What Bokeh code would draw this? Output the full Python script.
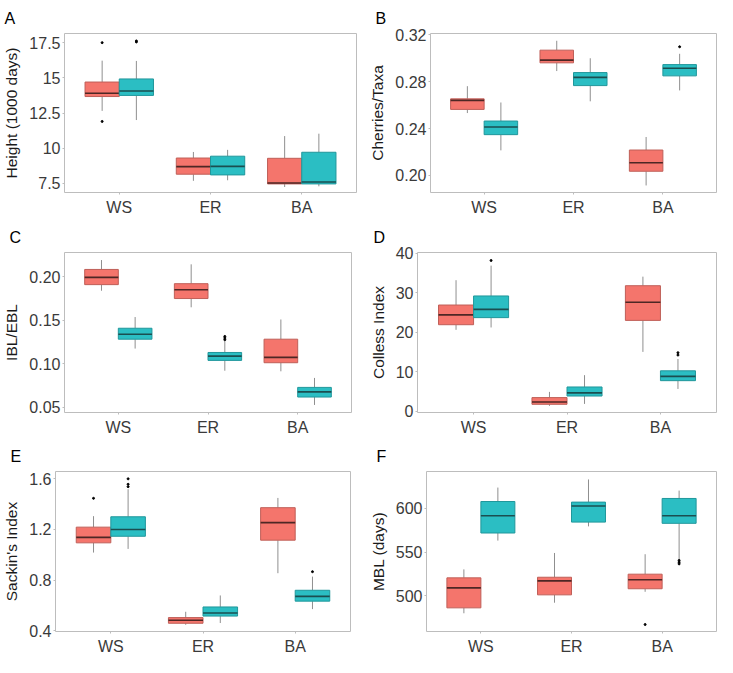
from bokeh.plotting import figure
from bokeh.models import Range1d, FixedTicker, ColumnDataSource, Title
from bokeh.layouts import column, row
from bokeh.embed import file_html
from bokeh.resources import INLINE

CATS = ["WS", "ER", "BA"]

# five-number summaries per category: [lower whisker, Q1, median, Q3, upper whisker]
A_red = [[12.65, 13.67, 13.9, 14.7, 16.22], [7.68, 8.15, 8.69, 9.3, 9.73], [7.24, 7.46, 7.52, 9.28, 10.86]]
A_teal = [[12.0, 13.75, 14.06, 14.92, 16.2], [7.72, 8.1, 8.71, 9.43, 9.88], [7.29, 7.46, 7.6, 9.71, 11.03]]
A_red_out_cat = ["WS", "WS"]
A_red_out_val = [17.5, 11.9]
A_teal_out_cat = ["WS", "WS"]
A_teal_out_val = [17.62, 17.55]

B_red = [[0.2532, 0.2563, 0.264, 0.2653, 0.2761], [0.289, 0.296, 0.2983, 0.3068, 0.3148], [0.1915, 0.2036, 0.2108, 0.2217, 0.2328]]
B_teal = [[0.2214, 0.2348, 0.2413, 0.2464, 0.2622], [0.2632, 0.2766, 0.2836, 0.2877, 0.2999], [0.2725, 0.2849, 0.2914, 0.2945, 0.3037]]
B_red_out_cat = []
B_red_out_val = []
B_teal_out_cat = ["BA"]
B_teal_out_val = [0.3097]

C_red = [[0.1839, 0.1909, 0.1993, 0.2084, 0.2192], [0.1648, 0.1749, 0.185, 0.192, 0.2143], [0.0911, 0.101, 0.1072, 0.1281, 0.1508]]
C_teal = [[0.1173, 0.1281, 0.1337, 0.1407, 0.1536], [0.0918, 0.1037, 0.1086, 0.1128, 0.1257], [0.0524, 0.0615, 0.0674, 0.0726, 0.0835]]
C_red_out_cat = []
C_red_out_val = []
C_teal_out_cat = ["ER", "ER", "ER"]
C_teal_out_val = [0.1313, 0.1295, 0.1274]

D_red = [[20.6, 21.9, 24.4, 26.9, 33.2], [1.3, 1.7, 2.3, 3.4, 4.85], [15.0, 23.0, 27.6, 31.8, 34.1]]
D_teal = [[21.2, 23.7, 25.8, 29.2, 36.9], [1.8, 3.8, 4.6, 6.1, 9.1], [5.6, 7.7, 8.8, 10.2, 13.2]]
D_red_out_cat = []
D_red_out_val = []
D_teal_out_cat = ["WS", "BA", "BA"]
D_teal_out_val = [38.2, 14.8, 14.2]

E_red = [[1.017, 1.094, 1.137, 1.218, 1.305], [0.446, 0.458, 0.482, 0.503, 0.549], [0.854, 1.115, 1.254, 1.372, 1.449]]
E_teal = [[1.046, 1.146, 1.199, 1.30, 1.518], [0.46, 0.515, 0.539, 0.587, 0.678], [0.570, 0.633, 0.671, 0.719, 0.827]]
E_red_out_cat = ["WS"]
E_red_out_val = [1.446]
E_teal_out_cat = ["WS", "WS", "WS", "BA"]
E_teal_out_val = [1.6, 1.557, 1.538, 0.866]

F_red = [[479.9, 486.1, 509.0, 520.5, 530.2], [492.0, 501.0, 517.0, 521.2, 549.0], [504.5, 508.0, 518.4, 524.7, 547.6]]
F_teal = [[563.2, 571.9, 591.7, 608.0, 624.0], [579.5, 584.4, 602.8, 607.3, 633.3], [541.7, 583.0, 591.7, 611.5, 620.5]]
F_red_out_cat = ["BA"]
F_red_out_val = [467.0]
F_teal_out_cat = ["BA", "BA", "BA"]
F_teal_out_val = [540.5, 538.5, 536.5]

A_ticks = [7.5, 10, 12.5, 15, 17.5]
A_labels = ["7.5", "10", "12.5", "15", "17.5"]
B_ticks = [0.20, 0.24, 0.28, 0.32]
B_labels = ["0.20", "0.24", "0.28", "0.32"]
C_ticks = [0.05, 0.10, 0.15, 0.20]
C_labels = ["0.05", "0.10", "0.15", "0.20"]
D_ticks = [0, 10, 20, 30, 40]
D_labels = ["0", "10", "20", "30", "40"]
E_ticks = [0.4, 0.8, 1.2, 1.6]
E_labels = ["0.4", "0.8", "1.2", "1.6"]
F_ticks = [500, 550, 600]
F_labels = ["500", "550", "600"]

FONT = "Liberation Sans"
RED_FILL, RED_EDGE, RED_MED = "#F4756C", "#BF5F58", "#4d2724"
TEAL_FILL, TEAL_EDGE, TEAL_MED = "#2BBEC3", "#20979B", "#1b4e50"
BOXW = 0.375


def add_series(p, stats, offset, fill, edge, med, out_cat, out_val):
    x = [i + 1 + offset for i in range(len(CATS))]
    src = ColumnDataSource(dict(
        x=x,
        x0=[v - BOXW / 2 for v in x],
        x1=[v + BOXW / 2 for v in x],
        lo=[s[0] for s in stats], q1=[s[1] for s in stats], md=[s[2] for s in stats],
        q3=[s[3] for s in stats], hi=[s[4] for s in stats]))
    p.segment(x0="x", y0="q3", x1="x", y1="hi", source=src, line_color="#8f8f8f", line_width=1)
    p.segment(x0="x", y0="q1", x1="x", y1="lo", source=src, line_color="#8f8f8f", line_width=1)
    p.vbar(x="x", width=BOXW, top="q3", bottom="q1", source=src, fill_color=fill,
           line_color=edge, line_width=1)
    p.segment(x0="x0", y0="md", x1="x1", y1="md", source=src, line_color=med, line_width=1.6)
    if out_cat:
        ox = [CATS.index(c) + 1 + offset for c in out_cat]
        p.scatter(ox, out_val, size=2.0, color="black")


def make_panel(letter, ytitle, yr, ticks, labels, red, teal, ro_c, ro_v, to_c, to_v,
               W, H, bl, br, bt, bb):
    p = figure(width=W, height=H, output_backend="svg", toolbar_location=None,
               x_range=Range1d(0.4, 3.6), y_range=Range1d(*yr))
    p.min_border_left, p.min_border_right = bl, br
    p.min_border_top, p.min_border_bottom = bt, bb
    p.grid.visible = False
    p.outline_line_color = "#bdbdbd"
    p.outline_line_width = 1
    p.background_fill_color = "white"
    p.border_fill_color = "white"
    add_series(p, red, -BOXW / 2, RED_FILL, RED_EDGE, RED_MED, ro_c, ro_v)
    add_series(p, teal, BOXW / 2, TEAL_FILL, TEAL_EDGE, TEAL_MED, to_c, to_v)

    xa = p.xaxis[0]
    xa.ticker = FixedTicker(ticks=[1, 2, 3])
    xa.major_label_overrides = {i + 1: c for i, c in enumerate(CATS)}
    ya = p.yaxis[0]
    ya.ticker = FixedTicker(ticks=ticks)
    ya.major_label_overrides = {t: l for t, l in zip(ticks, labels)}
    ya.axis_label = ytitle
    ya.axis_label_text_font = FONT
    ya.axis_label_text_font_size = "15.5px"
    ya.axis_label_text_font_style = "normal"
    ya.axis_label_text_color = "#1a1a1a"
    ya.axis_label_standoff = 6
    for ax in (xa, ya):
        ax.axis_line_color = None
        ax.major_tick_line_color = "#bdbdbd"
        ax.major_tick_out = 2
        ax.major_tick_in = 0
        ax.minor_tick_line_color = None
        ax.major_label_text_font = FONT
        ax.major_label_text_font_size = "16px"
        ax.major_label_text_color = "#3a3a3a"
        ax.major_label_standoff = 2
    xa.major_label_standoff = 4

    t = Title(text=letter, align="left", offset=2 - bl, standoff=14,
              text_font=FONT, text_font_size="16px", text_font_style="normal",
              text_color="black", vertical_align="bottom")
    p.add_layout(t, "above")
    return p


WL, WR = 366, 351
pA = make_panel("A", "Height (1000 days)", (6.85, 18.15), A_ticks, A_labels, A_red, A_teal,
                A_red_out_cat, A_red_out_val, A_teal_out_cat, A_teal_out_val,
                WL, 219, 62, 10, 22, 27)
pB = make_panel("B", "Cherries/Taxa", (0.1855, 0.321), B_ticks, B_labels, B_red, B_teal,
                B_red_out_cat, B_red_out_val, B_teal_out_cat, B_teal_out_val,
                WR, 219, 57, 1, 22, 27)
pC = make_panel("C", "IBL/EBL", (0.0437, 0.2279), C_ticks, C_labels, C_red, C_teal,
                C_red_out_cat, C_red_out_val, C_teal_out_cat, C_teal_out_val,
                WL, 219, 57, 15, 23, 26)
pD = make_panel("D", "Colless Index", (-0.38, 40.23), D_ticks, D_labels, D_red, D_teal,
                D_red_out_cat, D_red_out_val, D_teal_out_cat, D_teal_out_val,
                WR, 219, 46, 1, 23, 26)
pE = make_panel("E", "Sackin's Index", (0.393, 1.658), E_ticks, E_labels, E_red, E_teal,
                E_red_out_cat, E_red_out_val, E_teal_out_cat, E_teal_out_val,
                WL, 219, 47, 16, 25, 24)
pF = make_panel("F", "MBL (days)", (459.0, 642.4), F_ticks, F_labels, F_red, F_teal,
                F_red_out_cat, F_red_out_val, F_teal_out_cat, F_teal_out_val,
                WR, 219, 52, 1, 25, 24)

layout = column(row(pA, pB), row(pC, pD), row(pE, pF))
open("out.html", "w").write(file_html(layout, INLINE))
